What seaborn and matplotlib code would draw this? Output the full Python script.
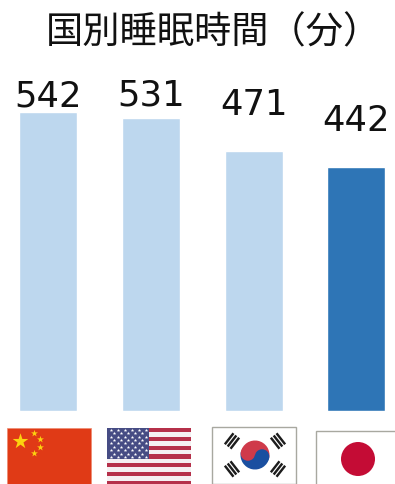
import numpy as np
import pandas as pd
import matplotlib
matplotlib.use("Agg")
import matplotlib.pyplot as plt
from matplotlib.patches import Rectangle, Circle, Wedge
from matplotlib.transforms import Affine2D
import seaborn as sns

countries = ["中国", "米国", "韓国", "日本"]
minutes = [542, 531, 471, 442]
bar_colors = ["#BDD7EE", "#BDD7EE", "#BDD7EE", "#2E75B6"]
title_text = "国別睡眠時間（分）"

W, H = 395, 484
sns.set_theme(style="white")
plt.rcParams["font.family"] = ["Noto Sans CJK JP", "DejaVu Sans"]

fig = plt.figure(figsize=(W / 100, H / 100), dpi=100, facecolor="white")

# Bar panel: runs the full width, baseline sits 73 px above the lower edge
ax = fig.add_axes([0, (H - 411) / H, 1, 411 / H])
frame = pd.DataFrame({"country": countries, "minutes": minutes})
sns.barplot(data=frame, x="country", y="minutes", hue="country",
            palette=bar_colors, width=0.565, saturation=1, legend=False, ax=ax)
ax.set_xlim(-0.471, 3.379)
ax.set_ylim(0, 411 / 0.5515)
ax.axis("off")

# Value labels float at differing heights above their bars
label_gaps_px = [6, 13, 36, 36]
for i, (value, gap) in enumerate(zip(minutes, label_gaps_px)):
    ax.annotate(str(value), (i, value), xytext=(0, gap * 0.72),
                textcoords="offset points", ha="center", va="baseline",
                fontsize=25.5, color="#111111", family="DejaVu Sans")

# Overlay in pixel coordinates for the title and flag row
ov = fig.add_axes([0, 0, 1, 1], facecolor="none")
ov.set_xlim(0, W)
ov.set_ylim(H, 0)
ov.axis("off")
ov.text(46, 33, title_text, ha="left", va="center", fontsize=26.8,
        color="#111111")


def china(x0, y0, w, h):
    ov.add_patch(Rectangle((x0, y0), w, h, fc="#E03A16", ec="#EE8A70", lw=0.5))
    ov.scatter([20], [441], marker="*", s=140, c="#FCD20F", linewidths=0, zorder=3)
    ov.scatter([34, 40, 40, 34], [433, 439, 447, 453], marker="*", s=27,
               c="#FCD20F", linewidths=0, zorder=3)


def usa(x0, y0, w, h):
    ov.add_patch(Rectangle((x0, y0), w, h, fc="#F4F0F2", ec="none"))
    stripe = h / 13
    for k in range(0, 13, 2):
        ov.add_patch(Rectangle((x0, y0 + k * stripe), w, stripe, fc="#B5304A",
                               ec="none", zorder=2))
    cw, ch = w * 0.5, stripe * 7
    ov.add_patch(Rectangle((x0, y0), cw, ch, fc="#464C84", ec="none", zorder=3))
    xs, ys = [], []
    for row in range(9):
        n = 6 if row % 2 == 0 else 5
        off = 0.5 if row % 2 == 0 else 1.0
        for c in range(n):
            xs.append(x0 + (c + off) * cw / 6)
            ys.append(y0 + (row + 0.5) * ch / 9)
    ov.scatter(xs, ys, marker="*", s=7, c="white", linewidths=0, zorder=4)


def korea(x0, y0, w, h):
    ov.add_patch(Rectangle((x0, y0), w, h, fc="white", ec="#A8A8A0", lw=1.0))
    cx, cy, r = 255, 455, 14.5
    tilt = 12
    ov.add_patch(Wedge((cx, cy), r, 180 + tilt, 360 + tilt, fc="#CF3A4A", ec="none", zorder=2))
    ov.add_patch(Wedge((cx, cy), r, tilt, 180 + tilt, fc="#1A4FA0", ec="none", zorder=2))
    dx, dy = r / 2 * np.cos(np.radians(tilt)), r / 2 * np.sin(np.radians(tilt))
    ov.add_patch(Circle((cx - dx, cy - dy), r / 2, fc="#CF3A4A", ec="none", zorder=3))
    ov.add_patch(Circle((cx + dx, cy + dy), r / 2, fc="#1A4FA0", ec="none", zorder=3))
    # Trigrams: three strokes at each corner, turned to face the centre
    for sx, sy in [(-1, -1), (1, -1), (-1, 1), (1, 1)]:
        tx, ty = cx + sx * 23, cy + sy * 14
        angle = -sx * sy * 52
        tr = Affine2D().rotate_deg_around(tx, ty, angle) + ov.transData
        for j in (-1, 0, 1):
            ov.add_patch(Rectangle((tx - 7, ty + j * 3.6 - 1.2), 14, 2.4,
                                   fc="#1C1C1C", ec="none", transform=tr, zorder=3))


def japan(x0, y0, w, h):
    ov.add_patch(Rectangle((x0, y0), w + 4, h + 4, fc="white", ec="#A8A8A0", lw=1.0))
    ov.add_patch(Circle((358, 459), 17, fc="#C40C35", ec="none", zorder=2))


china(7, 428, 84, 57)
usa(107, 428, 84, 57)
korea(212, 427, 84, 57)
japan(316, 431, 79, 53)

fig.savefig("out.png", dpi=100)
